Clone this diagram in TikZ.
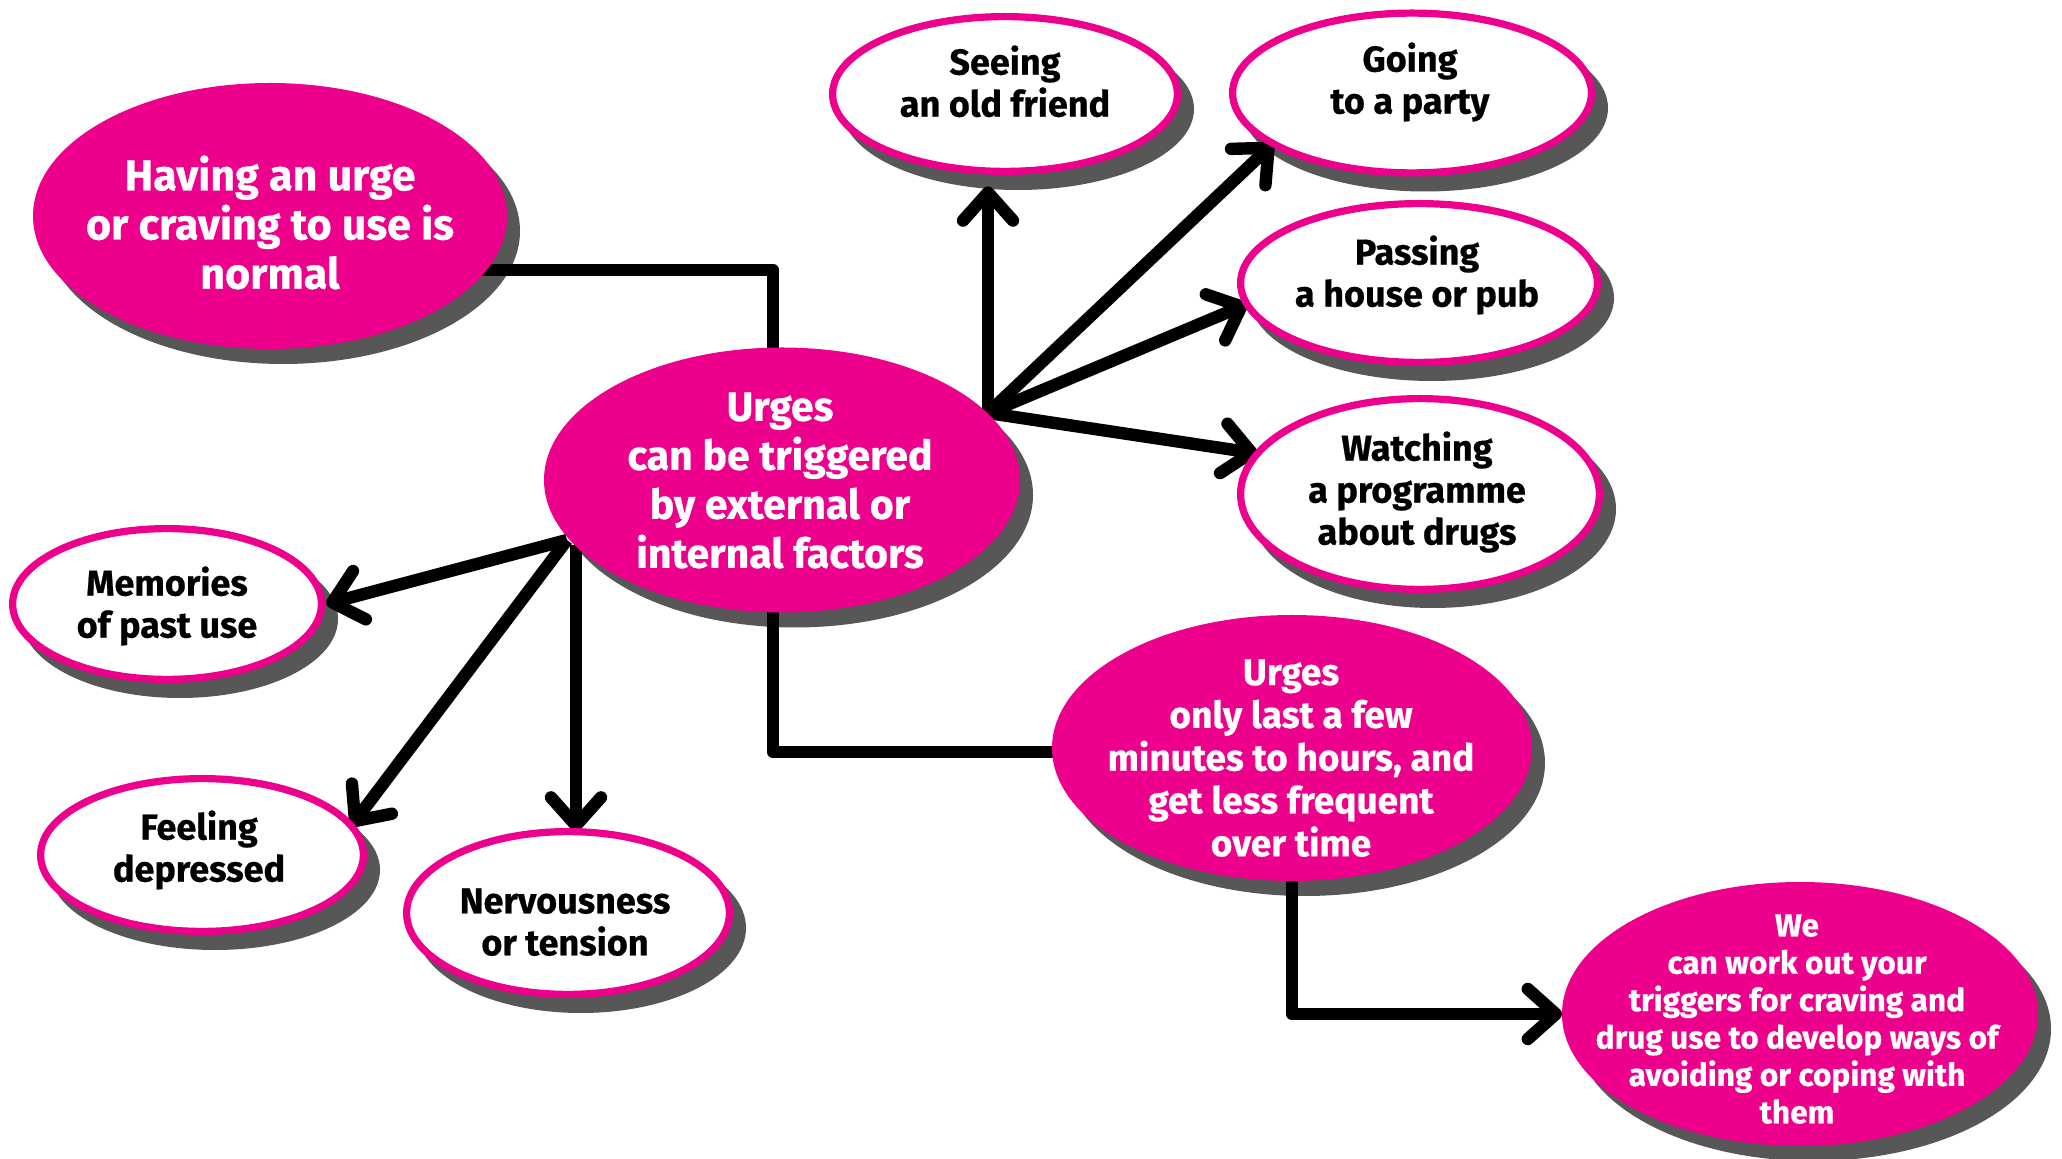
\documentclass[tikz,border=0pt]{standalone}
\usepackage{fontspec}
\setmainfont{Fira Sans}[BoldFeatures={FakeBold=0.6}]
\usetikzlibrary{arrows.meta,calc,shapes.geometric}
\definecolor{mag}{HTML}{EC008C}
\definecolor{shcol}{HTML}{575757}
\pgfdeclarelayer{shad}
\pgfdeclarelayer{lines}
\pgfsetlayers{shad,lines,main}
\tikzset{
  pinkell/.style={ellipse, fill=mag, inner sep=0pt, outer sep=0pt},
  whiteell/.style={ellipse, fill=white, draw=mag, line width=3.6pt, inner sep=0pt, outer sep=0pt},
  wtext/.style={text=white, font=\bfseries\fontsize{20.5}{24.5}\selectfont, align=center, anchor=north, inner sep=0pt},
  btext/.style={text=black, font=\bfseries\fontsize{18}{21}\selectfont, align=center, anchor=north, inner sep=0pt},
  conn/.style={line width=6.2pt, black, line join=round},
  arr/.style={conn, -{Straight Barb[length=14pt,width=25pt,round]}}
}
% #1 style, #2 name, #3 x, #4 y, #5 outer rx (px), #6 outer ry (px), #7 inset (px)
\newcommand\mkEll[7]{%
  \begin{pgfonlayer}{shad}
    \fill[shcol] ($(#3,#4)+(13,15)$) ellipse [x radius={#5*0.5pt}, y radius={#6*0.5pt}];
  \end{pgfonlayer}
  \node[#1, minimum width={(#5-#7)*1pt}, minimum height={(#6-#7)*1pt}] (#2) at (#3,#4) {};
}
\begin{document}
\begin{tikzpicture}[x=0.5pt,y=-0.5pt]
\useasboundingbox (0,0) rectangle (2062,1159);
\begin{pgfonlayer}{shad}
\fill[white] (0,0) rectangle (2062,1159);
\end{pgfonlayer}

% ellipses
\mkEll{pinkell}{having}{270}{216}{237}{133}{0}
\mkEll{pinkell}{central}{782}{480}{238}{132.5}{0}
\mkEll{pinkell}{urgesonly}{1292}{748}{240}{133}{0}
\mkEll{pinkell}{we}{1800}{1014}{238}{132}{0}
\mkEll{whiteell}{seeing}{1005}{94}{176}{81}{3.6}
\mkEll{whiteell}{going}{1412}{93}{183}{83.5}{3.6}
\mkEll{whiteell}{passing}{1419}{283}{182}{83}{3.6}
\mkEll{whiteell}{watching}{1420}{494}{183}{99}{3.6}
\mkEll{whiteell}{memories}{167}{604}{158}{79}{3.6}
\mkEll{whiteell}{feeling}{202}{855}{165}{80}{3.6}
\mkEll{whiteell}{nerv}{568}{913}{165}{85}{3.6}

% texts
\node[wtext, font=\bfseries\fontsize{21.5}{24.6}\selectfont] (having-t) at (270,155) {Having an urge\\or craving to use is\\normal};
\node[wtext] (central-t) at (780,392) {Urges\\can be triggered\\by external or\\internal factors};
\node[wtext, font=\bfseries\fontsize{18.5}{21.4}\selectfont] (urgesonly-t) at (1291,659) {Urges\\only last a few\\minutes to hours, and\\get less frequent\\over time};
\node[wtext, font=\bfseries\fontsize{15.8}{18.7}\selectfont] (we-t) at (1797,914) {We\\can work out your\\triggers for craving and\\drug use to develop ways of\\avoiding or coping with\\them};
\node[btext] (seeing-t) at (1005,45) {Seeing\\an old friend};
\node[btext] (going-t) at (1410,42) {Going\\to a party};
\node[btext] (passing-t) at (1417,235) {Passing\\a house or pub};
\node[btext] (watching-t) at (1417,431) {Watching\\a programme\\about drugs};
\node[btext] (memories-t) at (167,566) {Memories\\of past use};
\node[btext] (feeling-t) at (199,810) {Feeling\\depressed};
\node[btext] (nerv-t) at (565,888) {Nervousness\\or tension};

% connectors
\begin{pgfonlayer}{lines}
\coordinate (c1) at (773,270);
\draw[conn] (having.center |- c1) -- (c1) -- (c1 |- central.center);
\coordinate (c2) at (773,752);
\draw[conn] (c2 |- central.center) -- (c2) -- (c2 -| urgesonly.center);
\draw[arr] (urgesonly.center) |- (we.west);
\coordinate (hubR) at (988,413);
\draw[arr] (hubR) -- ($(hubR |- seeing.south)+(0,15)$);
\draw[arr] (hubR) -- (going.200);
\draw[arr] (hubR) -- (passing.187);
\draw[arr] (hubR) -- (watching.166);
\coordinate (hubL) at (567,540);
\draw[arr] (hubL) -- ($(memories.east)+(5,0)$);
\draw[arr] (hubL) -- (feeling.11);
\coordinate (hubN) at (576,545);
\draw[arr] (hubN) -- (hubN |- nerv.north);
\end{pgfonlayer}
\end{tikzpicture}
\end{document}
